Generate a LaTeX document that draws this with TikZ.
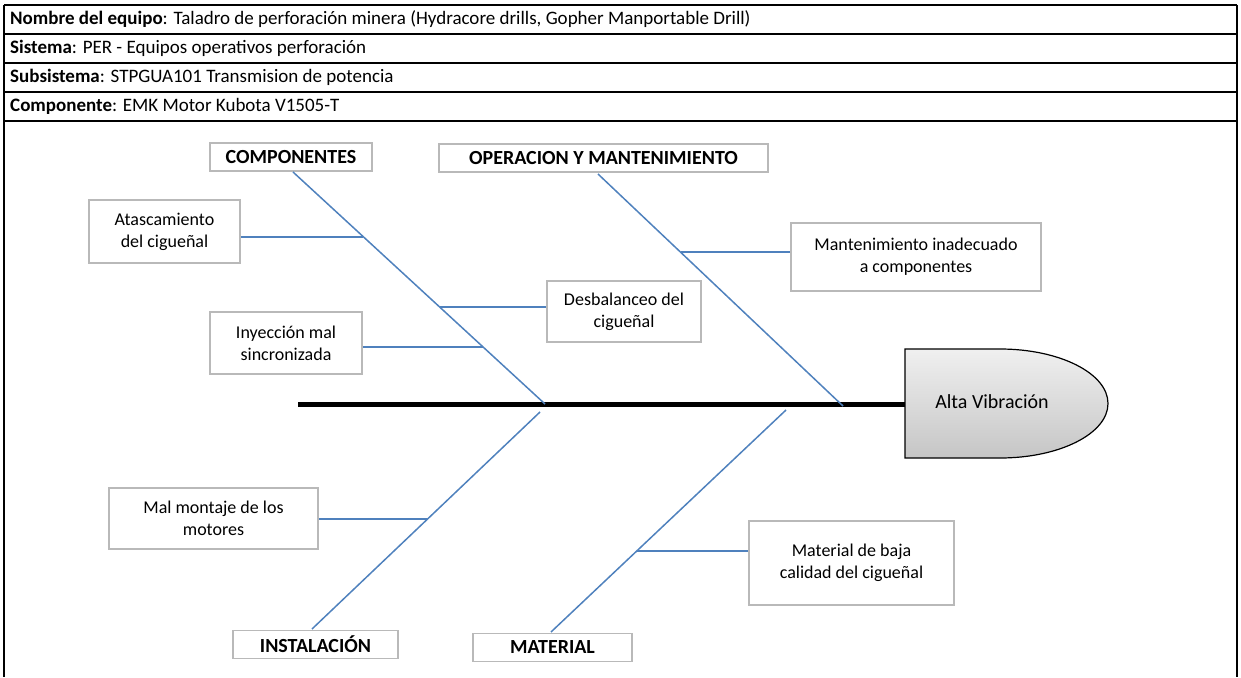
\documentclass[tikz,border=0pt]{standalone}
\usepackage{fontspec}
\setmainfont{Carlito}
\begin{document}
\begin{tikzpicture}[x=1pt,y={(0,-1pt)},
  frame/.style={draw=black,line width=1.2pt},
  hdr/.style={anchor=west,font=\fontsize{19}{20}\selectfont,inner sep=0pt},
  cat/.style={draw=gray!55,line width=1.6pt,fill=white,font=\bfseries\fontsize{20}{22}\selectfont,minimum height=28pt,inner sep=0pt},
  cause/.style={draw=gray!55,line width=1.6pt,fill=white,font=\fontsize{18}{22}\selectfont,align=center,inner sep=0pt},
  bone/.style={color={rgb,255:red,79;green,129;blue,189},line width=1.5pt},
  twig/.style={color={rgb,255:red,79;green,129;blue,189},line width=2pt},
  spine/.style={line width=5pt,black}]
\useasboundingbox (0,0) rectangle (1241,677);
% header table
\draw[frame] (4,5) -- (1237,5);
\draw[frame] (4,34) -- (1237,34);
\draw[frame] (4,63) -- (1237,63);
\draw[frame] (4,92) -- (1237,92);
\draw[frame] (4,121) -- (1237,121);
\draw[frame] (4,5) -- (4,677);
\draw[frame] (1237,5) -- (1237,677);
\node[hdr] (h1) at (10,19.5) {\textbf{Nombre del equipo}: Taladro de perforación minera (Hydracore drills, Gopher Manportable Drill)};
\node[hdr] (h2) at (10,48.5) {\textbf{Sistema}: PER - Equipos operativos perforación};
\node[hdr] (h3) at (10,77.5) {\textbf{Subsistema}: STPGUA101 Transmision de potencia};
\node[hdr] (h4) at (10,106.5) {\textbf{Componente}: EMK Motor Kubota V1505-T};
% head
\coordinate (spL) at (298,404);
\coordinate (spR) at (905,404);
\draw[spine] (spL) -- (spR);
\path[draw=black,line width=1.2pt,top color=gray!12,bottom color=gray!45]
  (905,349) -- (1000,349) arc[start angle=-90,end angle=90,x radius=108,y radius=54.5] -- (905,458) -- cycle;
\node[font=\fontsize{20}{22}\selectfont] (head) at (992,402) {Alta Vibración};
% categories
\node[cat,minimum width=162pt] (comp) at (291,157) {COMPONENTES};
\node[cat,minimum width=329pt] (oym) at (603.5,158) {OPERACION Y MANTENIMIENTO};
\node[cat,minimum width=165pt] (inst) at (315.5,644.5) {INSTALACIÓN};
\node[cat,minimum width=159pt] (mat) at (552.5,647.5) {MATERIAL};
% bone ends on spine
\coordinate (bC) at (545,404);
\coordinate (bO) at (843,406);
\coordinate (bI) at (540,412);
\coordinate (bM) at (786,410);
\coordinate (tC) at (293,172);
\coordinate (tO) at (598,174);
\coordinate (tI) at (312,629);
\coordinate (tM) at (551,632);
\draw[bone] (tC) -- (bC);
\draw[bone] (tO) -- (bO);
\draw[bone] (tI) -- (bI);
\draw[bone] (tM) -- (bM);
% causes
\node[cause,minimum width=151pt,minimum height=63pt] (c1) at (164.5,231.5) {Atascamiento\\del cigueñal};
\node[cause,minimum width=152pt,minimum height=62pt] (c2) at (286,343) {Inyección mal\\sincronizada};
\node[cause,minimum width=154pt,minimum height=61pt] (c3) at (624,311.5) {Desbalanceo del\\cigueñal};
\node[cause,minimum width=250pt,minimum height=68pt] (c4) at (916,257) {Mantenimiento inadecuado\\a componentes};
\node[cause,minimum width=209pt,minimum height=61pt] (c5) at (213.5,518.5) {Mal montaje de los\\motores};
\node[cause,minimum width=205pt,minimum height=84pt] (c6) at (851.5,563) {Material de baja\\calidad del cigueñal};
\coordinate (p1) at (363,237);
\coordinate (p2) at (483,347);
\coordinate (p3) at (440,307);
\coordinate (p4) at (681,252);
\coordinate (p5) at (428,519);
\coordinate (p6) at (637,551);
\draw[twig] (c1.east |- p1) -- (p1);
\draw[twig] (c2.east |- p2) -- (p2);
\draw[twig] (c3.west |- p3) -- (p3);
\draw[twig] (c4.west |- p4) -- (p4);
\draw[twig] (c5.east |- p5) -- (p5);
\draw[twig] (c6.west |- p6) -- (p6);
\end{tikzpicture}
\end{document}
